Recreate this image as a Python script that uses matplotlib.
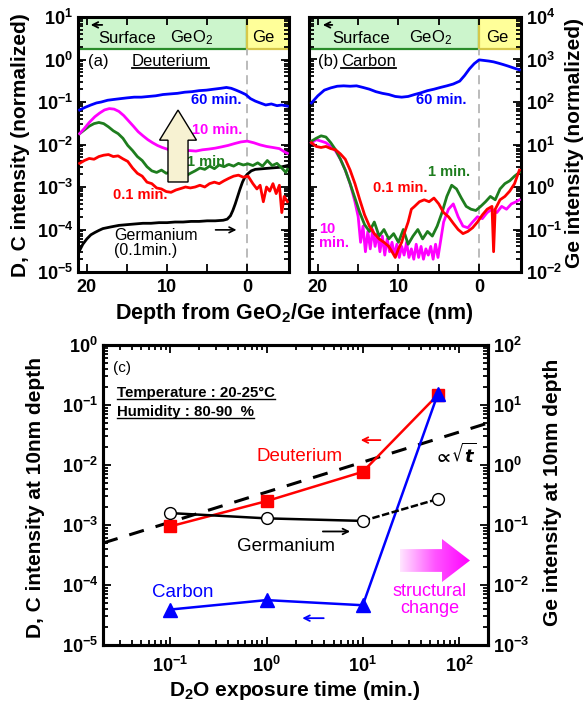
import matplotlib
matplotlib.use("Agg")
import numpy as np
import matplotlib.pyplot as plt
from matplotlib.patches import FancyArrow
from matplotlib.lines import Line2D
from matplotlib.ticker import LogLocator, FixedLocator, NullFormatter
from matplotlib.colors import LinearSegmentedColormap

plt.rcParams['font.family'] = ['Liberation Sans', 'DejaVu Sans']
plt.rcParams['font.weight'] = 'bold'
plt.rcParams['mathtext.default'] = 'regular'

# ---------------- (a) deuterium depth profiles ----------------
d60_depth = [20.9, 20.2, 19.5, 18.8, 18.2, 17.4, 16.6, 15.8, 15.0, 14.1, 13.2, 12.3, 11.4, 10.5, 9.6,
             8.7, 7.8, 6.9, 6.0, 5.1, 4.2, 3.3, 2.6, 2.0, 1.4, 0.8, 0.2, -0.4, -1.0, -1.6, -2.3,
             -3.0, -3.7, -4.3, -5.0]
d60_val = [0.065, 0.075, 0.085, 0.095, 0.10, 0.11, 0.115, 0.12, 0.125, 0.13, 0.13, 0.135, 0.14, 0.15,
           0.155, 0.16, 0.17, 0.175, 0.185, 0.19, 0.2, 0.21, 0.22, 0.21, 0.19, 0.17, 0.15, 0.12, 0.105,
           0.095, 0.085, 0.09, 0.082, 0.085, 0.08]

d10_depth = [20.9, 20.3, 19.7, 19.0, 18.4, 17.8, 17.2, 16.6, 16.0, 15.4, 14.8, 14.2, 13.6, 13.0, 12.4,
             11.8, 11.2, 10.6, 10.0, 9.4, 8.8, 8.0, 7.2, 6.4, 5.6, 4.8, 4.0, 3.2, 2.4, 1.6, 0.8, 0.0,
             -0.8, -1.6, -2.4, -3.2, -4.0, -4.6, -5.0]
d10_val = [0.018, 0.024, 0.033, 0.045, 0.055, 0.065, 0.07, 0.068, 0.06, 0.048, 0.036, 0.027, 0.02,
           0.016, 0.013, 0.011, 0.0095, 0.0085, 0.0078, 0.0072, 0.0068, 0.0070, 0.0072, 0.0070, 0.0075,
           0.0078, 0.0082, 0.0088, 0.0095, 0.0105, 0.0115, 0.012, 0.011, 0.0098, 0.009, 0.0085, 0.008,
           0.0068, 0.0062]

d1_depth = [20.9, 20.3, 19.7, 19.1, 18.5, 17.9, 17.3, 16.7, 16.1, 15.5, 14.9, 14.3, 13.7, 13.1, 12.5,
            11.9, 11.3, 10.7, 10.1, 9.5, 8.9, 8.3, 7.7, 7.1, 6.5, 5.9, 5.3, 4.7, 4.1, 3.5, 2.9, 2.3,
            1.7, 1.1, 0.5, -0.1, -0.7, -1.3, -1.9, -2.5, -3.1, -3.7, -4.3, -4.8, -5.0]
d1_val = [0.018, 0.022, 0.027, 0.031, 0.033, 0.031, 0.026, 0.021, 0.018, 0.014, 0.0095, 0.0072, 0.0052,
          0.0042, 0.003, 0.0024, 0.0022, 0.0025, 0.0021, 0.0023, 0.0019, 0.0022, 0.0018, 0.0021, 0.0024,
          0.0028, 0.0026, 0.0031, 0.0027, 0.0033, 0.003, 0.0034, 0.0031, 0.0036, 0.0033, 0.0035, 0.0032,
          0.0037, 0.0031, 0.0042, 0.0032, 0.0036, 0.0028, 0.0022, 0.0026]

d01_depth = [20.9, 20.3, 19.7, 19.1, 18.5, 17.9, 17.3, 16.7, 16.1, 15.5, 14.9, 14.3, 13.7, 13.1, 12.5,
             11.9, 11.3, 10.7, 10.1, 9.5, 8.9, 8.3, 7.7, 7.1, 6.5, 5.9, 5.3, 4.7, 4.1, 3.5, 2.9, 2.3,
             1.7, 1.1, 0.5, -0.1, -0.7, -1.2, -1.6, -2.0, -2.4, -2.8, -3.2, -3.6, -4.0, -4.3, -4.6, -5.0]
d01_val = [0.0036, 0.0042, 0.0047, 0.0045, 0.0052, 0.0056, 0.0058, 0.0052, 0.0054, 0.0046, 0.004, 0.0028,
           0.0021, 0.0018, 0.0013, 0.0012, 0.00095, 0.0009, 0.00078, 0.00075, 0.00085, 0.00092, 0.001,
           0.00095, 0.001, 0.0011, 0.001, 0.0012, 0.0013, 0.0012, 0.0014, 0.0016, 0.0018, 0.0019, 0.0017,
           0.0018, 0.0012, 0.0009, 0.0011, 0.00045, 0.001, 0.0008, 0.0012, 0.0007, 0.0011, 0.00025,
           0.0006, 0.00045]

ge_depth = [20.9, 20.5, 20.0, 19.5, 19.0, 18.5, 18.0, 17.0, 16.0, 15.0, 14.0, 13.0, 12.0, 11.0, 10.0,
            9.0, 8.0, 7.0, 6.0, 5.0, 4.0, 3.0, 2.5, 2.1, 1.8, 1.5, 1.2, 0.9, 0.6, 0.3, 0.0, -0.5, -1.0,
            -2.0, -3.0, -4.0, -5.0]
ge_val = [3.2e-5, 4.5e-5, 6e-5, 7.5e-5, 8.5e-5, 9.5e-5, 1.05e-4, 1.15e-4, 1.25e-4, 1.3e-4, 1.35e-4,
          1.4e-4, 1.4e-4, 1.45e-4, 1.45e-4, 1.5e-4, 1.5e-4, 1.55e-4, 1.55e-4, 1.6e-4, 1.6e-4, 1.65e-4,
          1.75e-4, 2.1e-4, 2.8e-4, 4e-4, 6e-4, 9e-4, 1.3e-3, 1.7e-3, 2.0e-3, 2.4e-3, 2.6e-3, 2.7e-3,
          2.8e-3, 2.9e-3, 3.2e-3]

# ---------------- (b) carbon depth profiles ----------------
c60_depth = [20.8, 20.0, 19.2, 18.4, 17.6, 16.8, 16.0, 15.2, 14.4, 13.6, 12.8, 12.0, 11.2, 10.4, 9.6,
             8.8, 8.0, 7.2, 6.4, 5.6, 4.8, 4.0, 3.2, 2.4, 1.8, 1.2, 0.6, 0.0, -0.6, -1.2, -1.8, -2.4,
             -3.0, -3.6, -4.2, -5.0]
c60_val = [95, 140, 190, 215, 235, 240, 235, 240, 220, 200, 175, 160, 150, 135, 130, 135, 150, 165, 185,
           200, 220, 240, 265, 310, 420, 600, 800, 980, 950, 920, 880, 820, 760, 700, 640, 570]

c1_depth = [20.8, 20.2, 19.6, 19.0, 18.4, 17.8, 17.2, 16.6, 16.0, 15.4, 14.8, 14.2, 13.6, 13.0, 12.4,
            11.8, 11.2, 10.6, 10.0, 9.4, 8.8, 8.2, 7.6, 7.0, 6.4, 5.8, 5.2, 4.6, 4.0, 3.4, 2.8, 2.2,
            1.6, 1.0, 0.4, -0.2, -0.8, -1.4, -2.0, -2.6, -3.2, -3.8, -4.4, -5.0]
c1_val = [12, 14, 16, 15, 11, 7.5, 4.5, 2.5, 1.2, 0.55, 0.25, 0.13, 0.09, 0.15, 0.07, 0.1, 0.06, 0.08,
          0.05, 0.1, 0.045, 0.07, 0.1, 0.06, 0.09, 0.07, 0.12, 0.25, 0.6, 1.1, 0.9, 0.55, 0.35, 0.3,
          0.28, 0.35, 0.45, 0.6, 0.5, 0.9, 1.2, 1.4, 1.8, 2.2]

c01_depth = [20.8, 20.2, 19.6, 19.0, 18.4, 17.8, 17.2, 16.6, 16.0, 15.4, 14.8, 14.2, 13.6, 13.0, 12.4,
             11.8, 11.2, 10.8, 10.4, 10.0, 9.6, 9.2, 8.8, 8.4, 8.0, 7.4, 6.8, 6.2, 5.6, 5.0, 4.4, 3.8,
             3.2, 2.6, 2.0, 1.4, 0.8, 0.2, -0.4, -1.0, -1.6, -1.8, -2.0, -2.6, -3.2, -3.8, -4.4, -5.0]
c01_val = [11, 9, 8.5, 9, 8, 7.5, 6, 4.5, 2.5, 1.2, 0.5, 0.22, 0.12, 0.08, 0.06, 0.05, 0.04, 0.03,
           0.022, 0.035, 0.05, 0.09, 0.15, 0.3, 0.35, 0.45, 0.5, 0.45, 0.55, 0.4, 0.25, 0.2, 0.14, 0.1,
           0.08, 0.09, 0.11, 0.15, 0.22, 0.3, 0.35, 0.03, 0.3, 0.5, 0.6, 0.8, 1.2, 2.5]

c10_depth = [20.8, 20.2, 19.6, 19.0, 18.4, 17.8, 17.2, 16.6, 16.0, 15.4, 15.0, 14.7, 14.4, 14.1, 13.8,
             13.5, 13.2, 12.9, 12.6, 12.3, 12.0, 11.7, 11.4, 11.1, 10.8, 10.5, 10.2, 9.9, 9.6, 9.3, 9.0,
             8.7, 8.4, 8.1, 7.8, 7.5, 7.2, 6.9, 6.6, 6.3, 6.0, 5.7, 5.4, 5.1, 4.8, 4.4, 3.8, 3.2, 2.6,
             2.0, 1.4, 0.8, 0.2, -0.4, -1.0, -1.6, -2.2, -2.8, -3.4, -4.0, -4.6, -5.0]
c10_val = [11, 13, 12, 11, 9, 7, 4.5, 2.5, 1.2, 0.45, 0.2, 0.05, 0.12, 0.03, 0.09, 0.035, 0.1, 0.04,
           0.08, 0.03, 0.07, 0.025, 0.06, 0.03, 0.05, 0.025, 0.045, 0.022, 0.04, 0.025, 0.05, 0.022,
           0.035, 0.02, 0.045, 0.022, 0.04, 0.02, 0.035, 0.025, 0.04, 0.02, 0.045, 0.022, 0.05, 0.15,
           0.3, 0.4, 0.2, 0.12, 0.11, 0.15, 0.2, 0.18, 0.25, 0.3, 0.25, 0.35, 0.3, 0.4, 0.45, 0.5]

# ---------------- (c) intensity at 10 nm vs exposure ----------------
exposure = [0.1, 1, 10, 60]
deut_10nm = [9.5e-4, 2.5e-3, 7.7e-3, 0.147]
carbon_10nm = [3.9e-5, 5.6e-5, 4.6e-5, 0.15]
germ_10nm = [0.158, 0.129, 0.117, 0.27]
sqrt_t = [0.02, 200]
sqrt_y = [5e-4, 0.05]

BLUE = '#0000ff'
MAG = '#ff00ff'
GRN = '#1e7d1e'
RED = '#ff0000'

W, H = 587, 709
fig = plt.figure(figsize=(W / 100, H / 100), dpi=100)


def box(x0, y0, x1, y1):
    return [x0 / W, 1 - y1 / H, (x1 - x0) / W, (y1 - y0) / H]


ax_a = fig.add_axes(box(78, 17, 289, 272))
ax_b = fig.add_axes(box(309, 17, 521, 272))
ax_c = fig.add_axes(box(103, 345, 488, 645))
ax_g = ax_c.twinx()


def style(ax):
    for s in ax.spines.values():
        s.set_linewidth(2.2)
    ax.tick_params(which='both', direction='in', width=1.3, labelsize=13)
    ax.tick_params(which='major', length=6)
    ax.tick_params(which='minor', length=3.5)


def log_ticks(axis):
    axis.set_major_locator(LogLocator(base=10, numticks=20))
    axis.set_minor_locator(LogLocator(base=10, subs=np.arange(2, 10), numticks=20))
    axis.set_minor_formatter(NullFormatter())


for ax, lo, hi in [(ax_a, 1e-5, 1e1), (ax_b, 1e-2, 1e4)]:
    ax.set_yscale('log')
    ax.set_ylim(lo, hi)
    log_ticks(ax.yaxis)
    ax.set_xlim(21.1, -5.2)
    ax.xaxis.set_major_locator(FixedLocator([20, 10, 0]))
    ax.xaxis.set_minor_locator(FixedLocator([15, 5]))
    style(ax)
    ax.tick_params(which='both', top=True, right=True, left=True, bottom=True)
    ax.tick_params(which='minor', axis='x', length=6)
    ax.tick_params(axis='x', pad=5)
    # top layer band
    ax.axvspan(22, 0, ymin=0.875, ymax=1, fc='#ccf5cc', ec='#2a8c2a', lw=1.6, zorder=1)
    ax.axvspan(0, -6, ymin=0.875, ymax=1, fc='#ffff99', ec='#d6c84a', lw=1.6, zorder=1)
    ax.axvline(0, ymin=0, ymax=0.875, color='#b5b5b5', ls=(0, (5, 3)), lw=1.3, zorder=1)

ax_b.tick_params(labelleft=False, labelright=True)

lw = 2.0
ax_a.plot(ge_depth, ge_val, color='black', lw=lw, zorder=3)
ax_a.plot(d01_depth, d01_val, color=RED, lw=lw, zorder=3)
ax_a.plot(d1_depth, d1_val, color=GRN, lw=lw, zorder=3)
ax_a.plot(d10_depth, d10_val, color=MAG, lw=lw, zorder=3)
ax_a.plot(d60_depth, d60_val, color=BLUE, lw=lw, zorder=3)

ax_b.plot(c10_depth, c10_val, color=MAG, lw=lw, zorder=3)
ax_b.plot(c1_depth, c1_val, color=GRN, lw=lw, zorder=3)
ax_b.plot(c01_depth, c01_val, color=RED, lw=lw, zorder=3)
ax_b.plot(c60_depth, c60_val, color=BLUE, lw=lw, zorder=3)

# band labels
for ax, xs in [(ax_a, (0.047, 0.128, 0.095, 0.54, 0.88)), (ax_b, (0.052, 0.123, 0.108, 0.575, 0.89))]:
    ax.annotate('', xy=(xs[0], 0.969), xytext=(xs[1], 0.969), xycoords='axes fraction',
                arrowprops=dict(arrowstyle='->', lw=1.3, color='black'), zorder=5)
    ax.text(xs[2], 0.914, 'Surface', transform=ax.transAxes, ha='left', va='center',
            size=12, weight='normal', zorder=5)
    ax.text(xs[3], 0.92, 'GeO$_2$', transform=ax.transAxes, ha='center', va='center',
            size=12, weight='normal', zorder=5)
    ax.text(xs[4], 0.92, 'Ge', transform=ax.transAxes, ha='center', va='center',
            size=12, weight='normal', zorder=5)

ax_a.text(0.047, 0.824, '(a)', transform=ax_a.transAxes, ha='left', va='center', size=12, weight='normal')
t_deut = ax_a.text(0.256, 0.824, 'Deuterium', transform=ax_a.transAxes, ha='left', va='center',
                   size=12, weight='normal')
ax_b.text(0.042, 0.824, '(b)', transform=ax_b.transAxes, ha='left', va='center', size=12, weight='normal')
t_carb = ax_b.text(0.15, 0.824, 'Carbon', transform=ax_b.transAxes, ha='left', va='center',
                   size=12, weight='normal')

ax_a.text(3.9, 0.11, '60 min.', color=BLUE, ha='center', va='center', size=10.5, zorder=6)
ax_a.text(3.7, 0.022, '10 min.', color=MAG, ha='center', va='center', size=10.5, zorder=6)
ax_a.text(4.9, 0.0039, '1 min.', color=GRN, ha='center', va='center', size=10.5, zorder=6)
ax_a.text(13.4, 6.5e-4, '0.1 min.', color=RED, ha='center', va='center', size=10.5, zorder=6)
ax_a.text(16.6, 4.8e-5, 'Germanium\n(0.1min.)', color='black', ha='left', va='center',
          size=11.5, weight='normal', linespacing=1.05, zorder=6)
ax_a.annotate('', xy=(1.0, 9.8e-5), xytext=(4.3, 9.8e-5),
              arrowprops=dict(arrowstyle='->', lw=1.2, color='black'))
ax_a.add_patch(FancyArrow(0.474, 0.353, 0, 0.282, width=0.095, head_width=0.175, head_length=0.118,
                          length_includes_head=True, transform=ax_a.transAxes, fc='#f7f2d2',
                          ec='black', lw=1.0, zorder=8))

ax_b.text(4.7, 112, '60 min.', color=BLUE, ha='center', va='center', size=10.5, zorder=6)
ax_b.text(3.7, 2.2, '1 min.', color=GRN, ha='center', va='center', size=10.5, zorder=6)
ax_b.text(9.8, 0.95, '0.1 min.', color=RED, ha='center', va='center', size=10.5, zorder=6)
ax_b.text(19.9, 0.07, '10\nmin.', color=MAG, ha='left', va='center', size=10.5,
          linespacing=1.05, zorder=6)

# ---------------- panel (c) ----------------
for ax in (ax_c, ax_g):
    ax.set_xscale('log')
    ax.set_yscale('log')
    log_ticks(ax.yaxis)
    style(ax)
ax_c.set_xlim(0.02, 200)
log_ticks(ax_c.xaxis)
ax_c.set_ylim(1e-5, 1)
ax_g.set_ylim(1e-3, 1e2)
ax_c.tick_params(which='both', top=True, bottom=True, left=True, right=False)
ax_g.tick_params(which='both', right=True, left=False)
ax_c.tick_params(axis='x', pad=8)

ax_c.plot(sqrt_t, sqrt_y, color='black', lw=2.2, ls=(0, (5, 4)), zorder=2)
ax_c.plot(exposure, deut_10nm, color=RED, lw=1.8, marker='s', ms=8, zorder=4)
ax_c.plot(exposure, carbon_10nm, color=BLUE, lw=1.8, marker='^', ms=10, zorder=4)
ax_g.plot(exposure[:3], germ_10nm[:3], color='black', lw=1.8, zorder=3)
ax_g.plot(exposure[2:], germ_10nm[2:], color='black', lw=1.8, ls=(0, (3, 1)), zorder=3)
ax_g.plot(exposure, germ_10nm, ls='none', marker='o', ms=8.5, mfc='white', mec='black', mew=1.0,
          zorder=4)

ax_c.text(0.026, 0.923, '(c)', transform=ax_c.transAxes, ha='left', va='center', size=11, weight='normal')
t_temp = ax_c.text(0.036, 0.84, 'Temperature : 20-25\u00b0C', transform=ax_c.transAxes, ha='left',
                   va='center', size=10.8)
t_hum = ax_c.text(0.036, 0.777, 'Humidity : 80-90  %', transform=ax_c.transAxes, ha='left',
                  va='center', size=10.8)
ax_c.text(2.2, 0.0136, 'Deuterium', color=RED, ha='center', va='center', size=13.5, weight='normal')
ax_c.annotate('', xy=(8.9, 0.026), xytext=(16.3, 0.026),
              arrowprops=dict(arrowstyle='->', lw=1.3, color=RED))
ax_c.text(54, 0.0147, r'$\propto\!\sqrt{\mathit{t}}$', ha='left', va='center', size=13,
          weight='normal')
ax_c.text(1.58, 4.3e-4, 'Germanium', color='black', ha='center', va='center', size=13.5, weight='normal')
ax_c.annotate('', xy=(7.9, 7.8e-4), xytext=(3.6, 7.8e-4),
              arrowprops=dict(arrowstyle='->', lw=1.3, color='black'))
ax_c.text(0.136, 7.6e-5, 'Carbon', color=BLUE, ha='center', va='center', size=13.5, weight='normal')
ax_c.annotate('', xy=(2.2, 2.8e-5), xytext=(4.2, 2.8e-5),
              arrowprops=dict(arrowstyle='->', lw=1.3, color=BLUE))
ax_c.text(50, 5.6e-5, 'structural\nchange', color=MAG, ha='center', va='center', size=13,
          weight='normal', linespacing=1.0)

# gradient arrow
ax_arr = fig.add_axes(box(400, 539, 470, 582))
ax_arr.set_axis_off()
pink = LinearSegmentedColormap.from_list('pink', ['#ffe6ff', '#ff55ff', '#ff00ff'])
im = ax_arr.imshow(np.linspace(0, 1, 256).reshape(1, -1), extent=[0, 1, 0, 1], aspect='auto', cmap=pink)
arr = FancyArrow(0, 0.5, 1, 0, width=0.53, head_width=1.0, head_length=0.4, length_includes_head=True,
                 fc='none', ec='none')
ax_arr.add_patch(arr)
im.set_clip_path(arr)
ax_arr.set_xlim(0, 1)
ax_arr.set_ylim(0, 1)

# axis labels
fig.text(21 / W, 1 - 145 / H, 'D, C intensity (normalized)', rotation=90, ha='center', va='center', size=15)
fig.text(574 / W, 1 - 143 / H, 'Ge intensity (normalized)', rotation=90, ha='center', va='center', size=15)
fig.text(294 / W, 1 - 313 / H, 'Depth from GeO$_2$/Ge interface (nm)', ha='center', va='center', size=15.5)
fig.text(36 / W, 1 - 497 / H, 'D, C intensity at 10nm depth', rotation=90, ha='center', va='center', size=15)
fig.text(553 / W, 1 - 492 / H, 'Ge intensity at 10nm depth', rotation=90, ha='center', va='center', size=15)
fig.text(295 / W, 1 - 690 / H, 'D$_2$O exposure time (min.)', ha='center', va='center', size=15)


def underline(txt, lw=1.2):
    fig.canvas.draw()
    bb = txt.get_window_extent()
    inv = fig.transFigure.inverted()
    (x0, y0), (x1, _) = inv.transform([(bb.x0, bb.y0 + 1), (bb.x1, bb.y0 + 1)])
    fig.add_artist(Line2D([x0, x1], [y0, y0], transform=fig.transFigure, color='black', lw=lw))


for t in (t_deut, t_carb):
    underline(t, 1.3)
for t in (t_temp, t_hum):
    underline(t, 1.0)

fig.savefig('out.png', dpi=100)
